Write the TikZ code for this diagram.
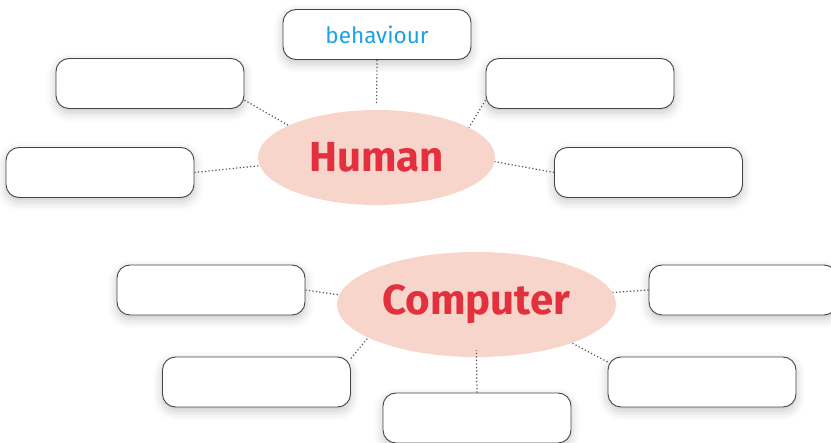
\documentclass[tikz,border=0pt]{standalone}
\usepackage{fontspec}
\setmainfont{Fira Sans}
\usetikzlibrary{shapes.geometric,shadows.blur}
\definecolor{hred}{HTML}{E3303F}
\definecolor{hpink}{HTML}{F8D5CA}
\definecolor{hblue}{HTML}{1DA1E2}
\definecolor{hedge}{HTML}{444444}
\definecolor{hdot}{HTML}{505050}
\tikzset{
  blankbox/.style={draw=hedge, line width=0.9pt, fill=white, rounded corners=13pt,
    minimum width=188pt, minimum height=50pt, inner sep=0pt,
    blur shadow={shadow xshift=0pt, shadow yshift=-4pt, shadow blur radius=9pt, shadow opacity=22}},
  bubble/.style={ellipse, fill=hpink, inner sep=0pt, text=hred,
    font=\fontsize{42}{46}\selectfont\bfseries},
  link/.style={draw=hdot, line width=1.2pt, dash pattern=on 1.2pt off 2.3pt}
}
\begin{document}
\begin{tikzpicture}[x=1pt,y=-1pt]
\useasboundingbox (0,0) rectangle (831,443);
% Human cluster
\node[bubble, minimum width=237pt, minimum height=95pt] (H) at (376.5,157.5) {Human};
\node[blankbox, text=hblue, font=\fontsize{22.5}{25}\selectfont] (beh) at (377,34.5) {behaviour};
\node[blankbox] (tl) at (150,83.5) {};
\node[blankbox] (l) at (100,172.5) {};
\node[blankbox] (tr) at (580,83.5) {};
\node[blankbox] (r) at (648.5,172.5) {};
% Computer cluster
\node[bubble, minimum width=279pt, minimum height=105pt] (C) at (476.5,304.5) {Computer};
\node[blankbox] (cl) at (211,290) {};
\node[blankbox] (cr) at (743,290) {};
\node[blankbox] (cll) at (256.5,382) {};
\node[blankbox] (clr) at (702,382) {};
\node[blankbox] (cb) at (477,418) {};
% connectors
\draw[link, shorten >=5pt] (beh.south) -- (H.north);
\draw[link] (tl.-10) -- (H.160);
\draw[link] (l.east) -- (H.184);
\draw[link] (tr.190) -- (H.18);
\draw[link] (r.west) -- (H.-2);
\draw[link] (cl.east) -- (C.176);
\draw[link] (cr.west) -- (C.5);
\draw[link] (cll.14) -- (C.197);
\draw[link] (clr.168) -- (C.-22);
\draw[link, shorten >=-7pt] (cb.north) -- (C.south);
\end{tikzpicture}
\end{document}
